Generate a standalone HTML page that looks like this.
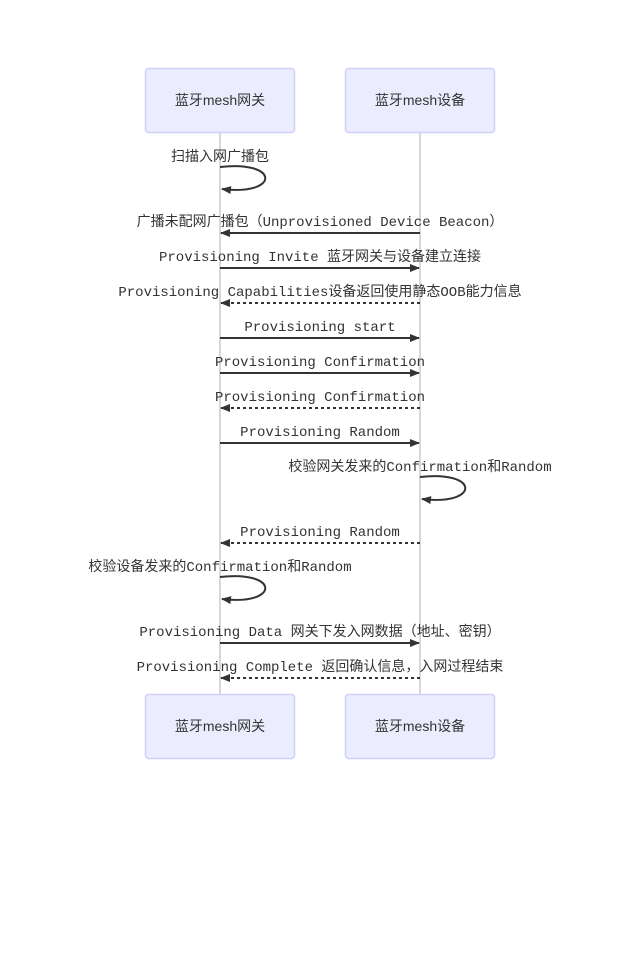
<!DOCTYPE html>
<html><head><meta charset="utf-8"><style>
html,body{margin:0;padding:0;background:#fff;}
svg text{font-family:"Liberation Mono","Noto Sans CJK SC",monospace;font-size:14px;fill:#333;text-anchor:middle;}
.a{font-family:"Liberation Sans","Noto Sans CJK SC",sans-serif;}
</style></head><body>
<svg width="640" height="975" viewBox="0 0 640 975" xmlns="http://www.w3.org/2000/svg">
<defs>
<marker id="ar" markerWidth="10" markerHeight="8" refX="9" refY="4" orient="auto" markerUnits="userSpaceOnUse"><path d="M0,0 L10,4 L0,8 z" fill="#333"/></marker>
</defs>
<line x1="220" y1="132" x2="220" y2="694" stroke="#ccc" stroke-width="1.5"/>
<line x1="420" y1="132" x2="420" y2="694" stroke="#ccc" stroke-width="1.5"/>
<g fill="#ececff" stroke="#d0d0f8" stroke-width="1.5">
<rect x="145.5" y="68.5" width="149" height="64" rx="3"/>
<rect x="345.5" y="68.5" width="149" height="64" rx="3"/>
<rect x="145.5" y="694.5" width="149" height="64" rx="3"/>
<rect x="345.5" y="694.5" width="149" height="64" rx="3"/>
</g>
<text x="220" y="105" class="a">蓝牙mesh网关</text>
<text x="420" y="105" class="a">蓝牙mesh设备</text>
<text x="220" y="731" class="a">蓝牙mesh网关</text>
<text x="420" y="731" class="a">蓝牙mesh设备</text>
<g stroke="#333" stroke-width="2" fill="none">
<path d="M220,167 C280,160 280,196 222,189" marker-end="url(#ar)"/>
<path d="M420,477 C480,470 480,506 422,499" marker-end="url(#ar)"/>
<path d="M220,577 C280,570 280,606 222,599" marker-end="url(#ar)"/>
<line x1="420" y1="233" x2="221" y2="233" marker-end="url(#ar)"/>
<line x1="220" y1="268" x2="419" y2="268" marker-end="url(#ar)"/>
<line x1="420" y1="303" x2="221" y2="303" stroke-dasharray="3,3" marker-end="url(#ar)"/>
<line x1="220" y1="338" x2="419" y2="338" marker-end="url(#ar)"/>
<line x1="220" y1="373" x2="419" y2="373" marker-end="url(#ar)"/>
<line x1="420" y1="408" x2="221" y2="408" stroke-dasharray="3,3" marker-end="url(#ar)"/>
<line x1="220" y1="443" x2="419" y2="443" marker-end="url(#ar)"/>
<line x1="420" y1="543" x2="221" y2="543" stroke-dasharray="3,3" marker-end="url(#ar)"/>
<line x1="220" y1="643" x2="419" y2="643" marker-end="url(#ar)"/>
<line x1="420" y1="678" x2="221" y2="678" stroke-dasharray="3,3" marker-end="url(#ar)"/>
</g>
<text x="220" y="161">扫描入网广播包</text>
<text x="320" y="226">广播未配网广播包（Unprovisioned Device Beacon）</text>
<text x="320" y="261">Provisioning Invite 蓝牙网关与设备建立连接</text>
<text x="320" y="296">Provisioning Capabilities设备返回使用静态OOB能力信息</text>
<text x="320" y="331">Provisioning start</text>
<text x="320" y="366">Provisioning Confirmation</text>
<text x="320" y="401">Provisioning Confirmation</text>
<text x="320" y="436">Provisioning Random</text>
<text x="420" y="471">校验网关发来的Confirmation和Random</text>
<text x="320" y="536">Provisioning Random</text>
<text x="220" y="571">校验设备发来的Confirmation和Random</text>
<text x="320" y="636">Provisioning Data 网关下发入网数据（地址、密钥）</text>
<text x="320" y="671">Provisioning Complete 返回确认信息，入网过程结束</text>
</svg>
</body></html>
